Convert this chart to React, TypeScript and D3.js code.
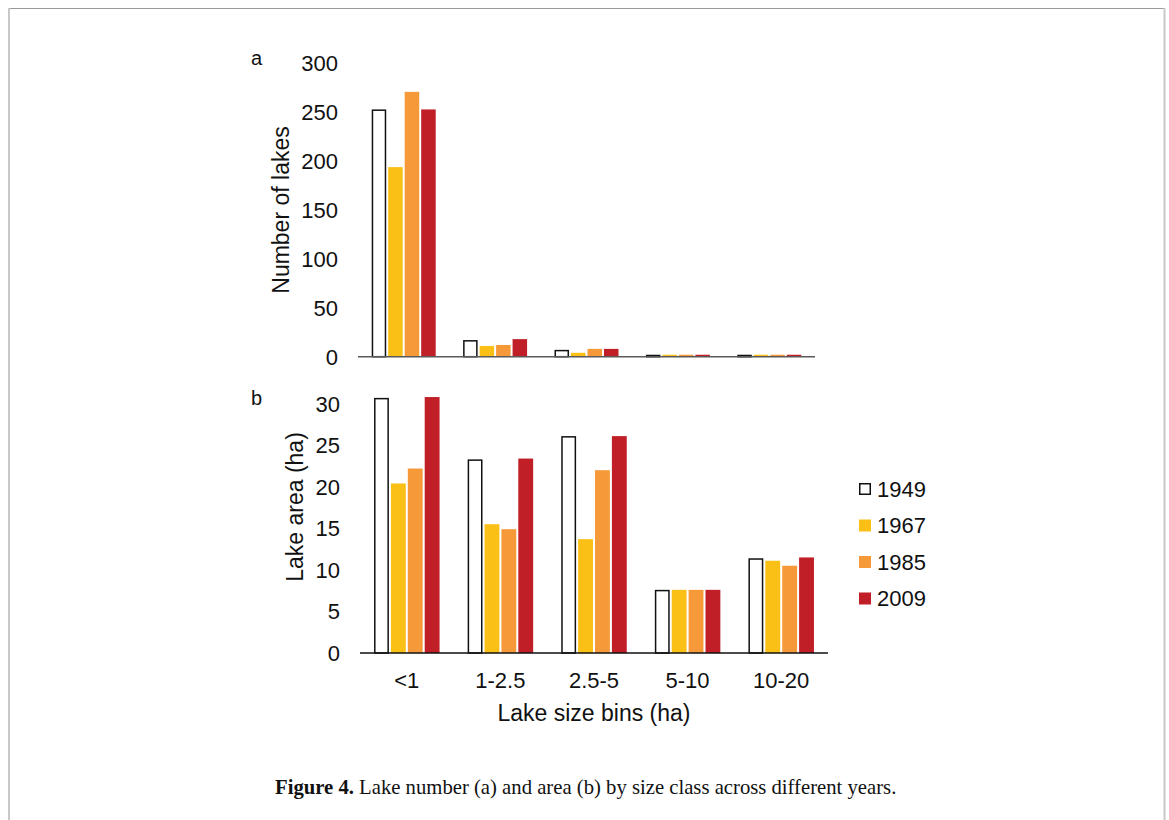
import React, { useEffect, useRef } from "react";
import * as d3 from "d3";

// size bins and years
const sizeBins = ["<1", "1-2.5", "2.5-5", "5-10", "10-20"];
const years = ["1949", "1967", "1985", "2009"];

// panel a: number of lakes
const count1949 = [253, 17, 7, 2, 2];
const count1967 = [194, 11, 4, 2, 2];
const count1985 = [271, 12, 8, 2, 2];
const count2009 = [253, 18, 8, 2, 2];

// panel b: lake area (ha)
const area1949 = [30.7, 23.3, 26.1, 7.6, 11.4];
const area1967 = [20.4, 15.5, 13.7, 7.6, 11.1];
const area1985 = [22.2, 14.9, 22.0, 7.6, 10.5];
const area2009 = [30.8, 23.4, 26.1, 7.6, 11.5];

const countTicks = [0, 50, 100, 150, 200, 250, 300];
const areaTicks = [0, 5, 10, 15, 20, 25, 30];

const fills: Record<string, string> = {
  "1949": "#ffffff",
  "1967": "#fbc016",
  "1985": "#f69a39",
  "2009": "#c01f27",
};

const FONT = "Liberation Sans, Arial, sans-serif";

export default function App() {
  const ref = useRef<SVGSVGElement>(null);

  useEffect(() => {
    const svg = d3.select(ref.current);
    svg.selectAll("*").remove();

    // frame of the figure box
    svg.append("line").attr("x1", 8).attr("x2", 1165).attr("y1", 8.5).attr("y2", 8.5)
      .attr("stroke", "#9a9a9a").attr("stroke-width", 1.2);
    svg.append("line").attr("x1", 9).attr("x2", 9).attr("y1", 8).attr("y2", 820)
      .attr("stroke", "#c8c8c8").attr("stroke-width", 2);
    svg.append("line").attr("x1", 1164.5).attr("x2", 1164.5).attr("y1", 8).attr("y2", 820)
      .attr("stroke", "#c8c8c8").attr("stroke-width", 2);

    const drawPanel = (opts: {
      series: number[][];
      ticks: number[];
      x0: number; x1: number; yBottom: number; yTop: number;
      axisColor: string;
      letter: string; letterY: number;
      title: string; titleX: number; titleY: number;
      showCats: boolean;
    }) => {
      const x = d3.scaleBand<string>().domain(sizeBins).range([opts.x0, opts.x1])
        .paddingInner(0.3).paddingOuter(0.15);
      const xi = d3.scaleBand<string>().domain(years).range([0, x.bandwidth()])
        .paddingInner(0.12).paddingOuter(0);
      const y = d3.scaleLinear().domain([0, opts.ticks[opts.ticks.length - 1]])
        .range([opts.yBottom, opts.yTop]);

      const g = svg.append("g");
      years.forEach((yr, k) => {
        const vals = opts.series[k];
        const inset = yr === "1949" ? 0.75 : 0;
        g.selectAll(null).data(sizeBins).enter().append("rect")
          .attr("x", (c) => (x(c) as number) + (xi(yr) as number) + inset)
          .attr("width", xi.bandwidth() - 2 * inset)
          .attr("y", (c, i) => y(vals[i]) + inset)
          .attr("height", (c, i) => Math.max(0, opts.yBottom - y(vals[i]) - inset))
          .attr("fill", fills[yr])
          .attr("stroke", yr === "1949" ? "#111" : "none")
          .attr("stroke-width", 1.5);
      });

      // x axis line only
      svg.append("line").attr("x1", opts.x0).attr("x2", opts.x1)
        .attr("y1", opts.yBottom).attr("y2", opts.yBottom)
        .attr("stroke", opts.axisColor).attr("stroke-width", 1.6);

      // y tick labels
      svg.append("g").selectAll("text").data(opts.ticks).enter().append("text")
        .attr("x", opts.x0 - 20).attr("y", (d) => y(d)).attr("dy", "0.36em")
        .attr("text-anchor", "end").style("font-family", FONT).style("font-size", "22px")
        .attr("fill", "#111").text((d) => String(d));

      if (opts.showCats) {
        svg.append("g").selectAll("text").data(sizeBins).enter().append("text")
          .attr("x", (c) => (x(c) as number) + x.bandwidth() / 2).attr("y", opts.yBottom + 35)
          .attr("text-anchor", "middle").style("font-family", FONT).style("font-size", "22px")
          .attr("fill", "#111").text((c) => c);
        svg.append("text").attr("x", (opts.x0 + opts.x1) / 2).attr("y", opts.yBottom + 68)
          .attr("text-anchor", "middle").style("font-family", FONT).style("font-size", "23px")
          .attr("fill", "#111").text("Lake size bins (ha)");
      }

      svg.append("text").attr("x", 251).attr("y", opts.letterY)
        .style("font-family", FONT).style("font-size", "20px").attr("fill", "#111").text(opts.letter);

      svg.append("text")
        .attr("transform", `translate(${opts.titleX},${opts.titleY}) rotate(-90)`)
        .attr("text-anchor", "middle").style("font-family", FONT).style("font-size", "23px")
        .attr("fill", "#111").text(opts.title);
    };

    drawPanel({
      series: [count1949, count1967, count1985, count2009],
      ticks: countTicks,
      x0: 358, x1: 815, yBottom: 356.7, yTop: 63.5,
      axisColor: "#5a5a5a",
      letter: "a", letterY: 65,
      title: "Number of lakes", titleX: 289, titleY: 210,
      showCats: false,
    });

    drawPanel({
      series: [area1949, area1967, area1985, area2009],
      ticks: areaTicks,
      x0: 360, x1: 828, yBottom: 653, yTop: 403.7,
      axisColor: "#111",
      letter: "b", letterY: 405,
      title: "Lake area (ha)", titleX: 303, titleY: 507,
      showCats: true,
    });

    // legend
    const legend = svg.append("g").attr("transform", "translate(859,489)");
    years.forEach((yr, i) => {
      const row = legend.append("g").attr("transform", `translate(0,${i * 36.5})`);
      const inset = yr === "1949" ? 0.75 : 0;
      row.append("rect").attr("x", inset).attr("y", -6 + inset)
        .attr("width", 12 - 2 * inset).attr("height", 12 - 2 * inset)
        .attr("fill", fills[yr]).attr("stroke", yr === "1949" ? "#111" : "none").attr("stroke-width", 1.5);
      row.append("text").attr("x", 18).attr("y", 0).attr("dy", "0.36em")
        .style("font-family", FONT).style("font-size", "22px").attr("fill", "#111").text(yr);
    });

    // caption
    const cap = svg.append("text").attr("x", 275).attr("y", 794)
      .style("font-family", "Liberation Serif, Times New Roman, serif").style("font-size", "20.7px")
      .attr("fill", "#111");
    cap.append("tspan").style("font-weight", "bold").text("Figure 4.");
    cap.append("tspan").text(" Lake number (a) and area (b) by size class across different years.");
  }, []);

  return (
    <svg ref={ref} width={1169} height={820}
      style={{ position: "absolute", left: 0, top: 0, background: "#fff" }} />
  );
}
